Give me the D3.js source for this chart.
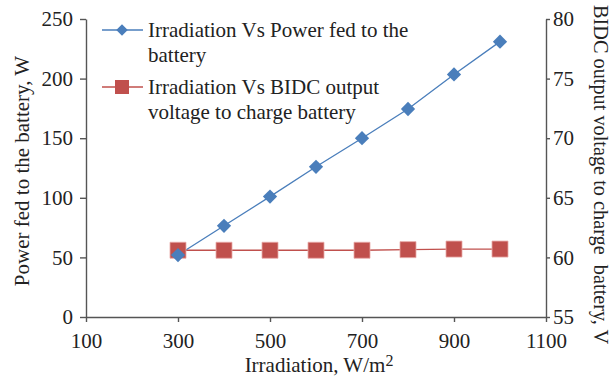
<!DOCTYPE html>
<html lang="en">
<head>
<meta charset="UTF-8">
<title>Irradiation chart</title>
<script src="https://d3js.org/d3.v7.min.js"></script>
<style>
  body { margin: 0; background: #fff; }
  svg text { font-family: "Liberation Serif", "DejaVu Serif", serif; fill: #222; }
</style>
</head>
<body>
<div id="chart"></div>
<script>
  // data
  const irradiation = [300, 400, 500, 600, 700, 800, 900, 1000];
  const powerFed = [52, 76.5, 101, 126, 150, 174.5, 203.5, 231];
  const bidcVoltage = [60.6, 60.6, 60.6, 60.6, 60.6, 60.65, 60.7, 60.7];
  const xTicks = [100, 300, 500, 700, 900, 1100];
  const yLeftTicks = [0, 50, 100, 150, 200, 250];
  const yRightTicks = [55, 60, 65, 70, 75, 80];
  const legendLabels = [
    ['Irradiation Vs Power fed to the', 'battery'],
    ['Irradiation Vs BIDC output', 'voltage to charge battery']
  ];

  const width = 612, height = 383;
  const plotL = 86, plotR = 546, plotT = 19, plotB = 317;
  const axisColor = '#555';
  const blue = '#4a7ebb', red = '#c0504d';
  const fs = 21;

  const svg = d3.select('#chart').append('svg')
    .attr('width', width)
    .attr('height', height);

  const x = d3.scaleLinear().domain([100, 1100]).range([plotL, plotR]);
  const yL = d3.scaleLinear().domain([0, 250]).range([plotB, plotT]);
  const yR = d3.scaleLinear().domain([55, 80]).range([plotB, plotT]);

  function styleAxis(g) {
    g.attr('font-size', fs).attr('font-family', null);
    g.select('.domain').attr('stroke', axisColor).attr('stroke-width', 1.4);
    g.selectAll('.tick line').attr('stroke', axisColor).attr('stroke-width', 1.4);
    g.selectAll('.tick text').attr('fill', '#222');
  }

  svg.append('g')
    .attr('transform', `translate(0,${plotB})`)
    .call(d3.axisBottom(x).tickValues(xTicks).tickFormat(d3.format('d'))
      .tickSize(5).tickSizeOuter(0).tickPadding(11))
    .call(styleAxis);

  svg.append('g')
    .attr('transform', `translate(${plotL},0)`)
    .call(d3.axisLeft(yL).tickValues(yLeftTicks).tickFormat(d3.format('d'))
      .tickSize(6).tickSizeOuter(0).tickPadding(7))
    .call(styleAxis);

  svg.append('g')
    .attr('transform', `translate(${plotR},0)`)
    .call(d3.axisRight(yR).tickValues(yRightTicks).tickFormat(d3.format('d'))
      .tickSize(4).tickSizeOuter(0).tickPadding(3))
    .call(styleAxis);

  // series
  const powerPts = irradiation.map((d, i) => [x(d), yL(powerFed[i])]);
  const voltPts = irradiation.map((d, i) => [x(d), yR(bidcVoltage[i])]);

  svg.append('path')
    .attr('d', d3.line()(voltPts))
    .attr('fill', 'none').attr('stroke', red).attr('stroke-width', 1.3);

  svg.append('path')
    .attr('d', d3.line()(powerPts))
    .attr('fill', 'none').attr('stroke', blue).attr('stroke-width', 1.3);

  const diamond = d3.symbol().type(d3.symbolDiamond2).size(130);
  const square = d3.symbol().type(d3.symbolSquare).size(256);

  svg.append('g').selectAll('path')
    .data(voltPts).join('path')
    .attr('transform', d => `translate(${d[0]},${d[1]})`)
    .attr('d', square)
    .attr('fill', red)
    .attr('stroke', '#e8a9a7').attr('stroke-width', 0.8);

  svg.append('g').selectAll('path')
    .data(powerPts).join('path')
    .attr('transform', d => `translate(${d[0]},${d[1]})`)
    .attr('d', diamond)
    .attr('fill', blue);

  // legend
  const legend = svg.append('g');
  const legendRows = [
    { y: 30, color: blue, sym: d3.symbol().type(d3.symbolDiamond2).size(85), lines: legendLabels[0] },
    { y: 87, color: red, sym: d3.symbol().type(d3.symbolSquare).size(196), lines: legendLabels[1] }
  ];
  legendRows.forEach(r => {
    legend.append('line')
      .attr('x1', 102).attr('x2', 143).attr('y1', r.y).attr('y2', r.y)
      .attr('stroke', r.color).attr('stroke-width', 1.3);
    legend.append('path')
      .attr('transform', `translate(122,${r.y})`)
      .attr('d', r.sym)
      .attr('fill', r.color);
    r.lines.forEach((t, i) => {
      legend.append('text')
        .attr('x', 148).attr('y', r.y + 6.5 + i * 25)
        .attr('font-size', fs)
        .text(t);
    });
  });

  // axis titles
  svg.append('text')
    .attr('transform', `translate(29,171) rotate(-90)`)
    .attr('text-anchor', 'middle')
    .attr('font-size', fs)
    .text('Power fed to the battery, W');

  svg.append('text')
    .attr('transform', `translate(594,5) rotate(90)`)
    .attr('text-anchor', 'start')
    .attr('font-size', 20.3)
    .style('white-space', 'pre')
    .text('BIDC output voltage to charge  battery, V');

  const xt = svg.append('text')
    .attr('x', 319).attr('y', 372)
    .attr('text-anchor', 'middle')
    .attr('font-size', fs);
  xt.append('tspan').text('Irradiation, W/m');
  xt.append('tspan').attr('font-size', 16).attr('dy', -6).text('2');
</script>
</body>
</html>
